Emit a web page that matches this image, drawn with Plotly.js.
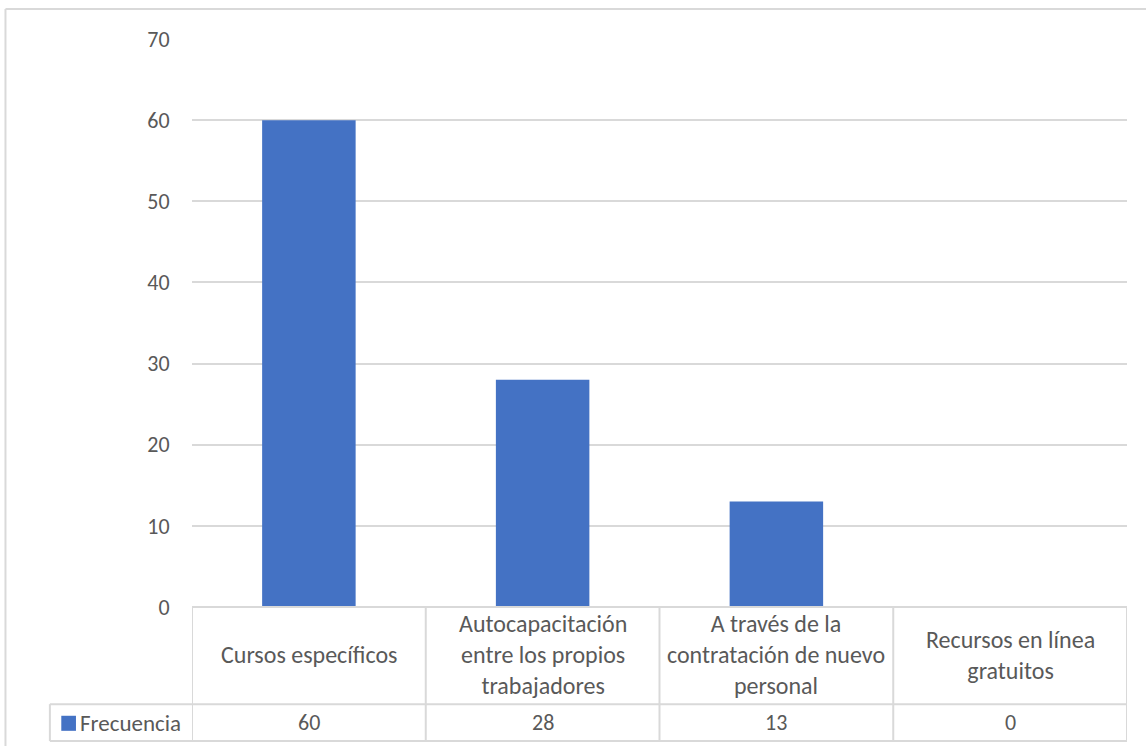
<!DOCTYPE html>
<html>
<head>
<meta charset="utf-8">
<script src="https://cdn.plot.ly/plotly-3.0.1.min.js"></script>
<style>
  html, body { margin: 0; padding: 0; background: #ffffff; }
  #chart { width: 1146px; height: 746px; }
</style>
</head>
<body>
<div id="chart"></div>
<script>
// Categories (multi-line labels use <br>) and their frequencies
const categories = [
  'Cursos específicos',
  'Autocapacitación<br>entre los propios<br>trabajadores',
  'A través de la<br>contratación de nuevo<br>personal',
  'Recursos en línea<br>gratuitos'
];
const frecuencia = [60, 28, 13, 0];
const seriesName = 'Frecuencia';
const yTicks = [0, 10, 20, 30, 40, 50, 60, 70];

const BLUE = '#4472c4';
const GRID = '#d9d9d9';
const TEXT = '#595959';
const FONT = 'Carlito, Lato, "Open Sans", sans-serif';
const TXT_SIZE = 24;
const NUM_SIZE = 22;

const xIdx = categories.map((_, i) => i);

// Paper-coordinate positions of the data table under the plot
const rowSplit = -0.171;   // between label row and value row
const tableBottom = -0.236;
const legendLeft = -0.152;

const shapes = [];
const line = { color: GRID, width: 2 };

// Horizontal table rules
shapes.push({ type: 'line', xref: 'x', yref: 'paper', x0: -0.5, x1: categories.length - 0.5, y0: 0, y1: 0, line });
shapes.push({ type: 'line', xref: 'paper', yref: 'paper', x0: legendLeft, x1: 1, y0: rowSplit, y1: rowSplit, line });
shapes.push({ type: 'line', xref: 'paper', yref: 'paper', x0: legendLeft, x1: 1, y0: tableBottom, y1: tableBottom, line });
// Vertical table rules at category boundaries
for (let i = 0; i <= categories.length; i++) {
  shapes.push({ type: 'line', xref: 'x', yref: 'paper', x0: i - 0.5, x1: i - 0.5, y0: tableBottom, y1: 0, line });
}
shapes.push({ type: 'line', xref: 'paper', yref: 'paper', x0: legendLeft, x1: legendLeft, y0: tableBottom, y1: rowSplit, line });
// Legend key swatch in the value row
shapes.push({ type: 'rect', xref: 'paper', yref: 'paper', x0: -0.1398, x1: -0.1241, y0: -0.1915, y1: -0.2180,
  fillcolor: BLUE, line: { width: 0 } });
// Chart-area frame
shapes.push({ type: 'line', xref: 'paper', yref: 'paper', x0: -0.1995, x1: -0.1995, y0: -0.3, y1: 1.0528, line });
shapes.push({ type: 'line', xref: 'paper', yref: 'paper', x0: -0.1995, x1: 1.03, y0: 1.0528, y1: 1.0528, line });

const annotations = [];
categories.forEach((c, i) => {
  annotations.push({ x: i, xref: 'x', y: -0.0845, yref: 'paper', text: c, showarrow: false,
    xanchor: 'center', yanchor: 'middle', align: 'center',
    font: { family: FONT, size: TXT_SIZE, color: TEXT } });
  annotations.push({ x: i, xref: 'x', y: -0.204, yref: 'paper', text: String(frecuencia[i]), showarrow: false,
    xanchor: 'center', yanchor: 'middle',
    font: { family: FONT, size: NUM_SIZE, color: TEXT } });
});
annotations.push({ x: -0.1215, xref: 'paper', y: -0.204, yref: 'paper', text: seriesName, showarrow: false,
  xanchor: 'left', yanchor: 'middle', font: { family: FONT, size: 23, color: TEXT } });

const data = [{
  type: 'bar',
  x: xIdx,
  y: frecuencia,
  name: seriesName,
  marker: { color: BLUE },
  hoverinfo: 'skip'
}];

const layout = {
  width: 1146,
  height: 746,
  margin: { l: 192, r: 19, t: 39, b: 139 },
  paper_bgcolor: '#ffffff',
  plot_bgcolor: '#ffffff',
  showlegend: false,
  bargap: 0.6,
  xaxis: {
    range: [-0.5, categories.length - 0.5],
    showticklabels: false,
    showgrid: false,
    zeroline: false,
    ticks: '',
    fixedrange: true
  },
  yaxis: {
    range: [0, 70],
    tickvals: yTicks,
    ticktext: yTicks.map(String),
    showgrid: true,
    gridcolor: GRID,
    gridwidth: 2,
    zeroline: false,
    ticks: 'outside',
    ticklen: 17,
    tickcolor: 'rgba(0,0,0,0)',
    tickfont: { family: FONT, size: NUM_SIZE, color: TEXT },
    fixedrange: true
  },
  shapes,
  annotations
};

Plotly.newPlot('chart', data, layout, { displayModeBar: false, staticPlot: true });
</script>
</body>
</html>
